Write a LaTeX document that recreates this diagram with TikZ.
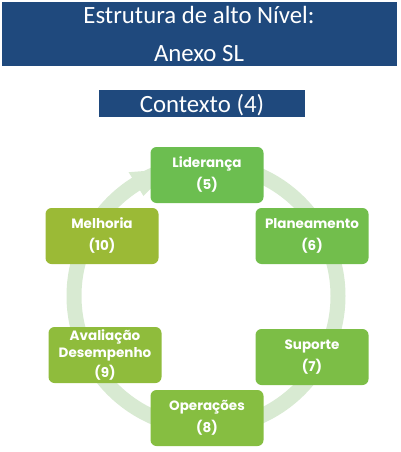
\documentclass[tikz,border=0pt]{standalone}
\usepackage{fontspec}
\setmainfont{Carlito}
\newfontfamily\popfont{Poppins}
\definecolor{bannerblue}{RGB}{31,73,125}
\definecolor{ringc}{RGB}{216,234,210}
\definecolor{cfive}{RGB}{108,190,80}
\definecolor{csix}{RGB}{114,190,76}
\definecolor{cseven}{RGB}{124,190,70}
\definecolor{ceight}{RGB}{134,190,65}
\definecolor{cnine}{RGB}{143,188,60}
\definecolor{cten}{RGB}{155,186,54}
\begin{document}
\begin{tikzpicture}[x=1pt,y=-1pt,
  gbox/.style={rounded corners=6pt, minimum width=113pt, minimum height=56pt,
    inner sep=0pt, text=white, align=center,
    font=\popfont\bfseries\fontsize{13.5}{22}\selectfont},
  titletext/.style={text=white, font=\fontsize{24.8}{28}\selectfont, anchor=base, inner sep=0pt}]
\useasboundingbox (0,0) rectangle (400,452);
% banner
\fill[bannerblue] (2,2) rectangle (397,66);
\node[titletext] (t1) at (199,24) {Estrutura de alto Nível:};
\node[titletext] (t2) at (199,62) {Anexo SL};
% context box
\fill[bannerblue] (99,90) rectangle (305,117);
\node[titletext] (ctx) at (202,112.5) {Contexto (4)};
% ring
\coordinate (c) at (206,296);
\draw[ringc, line width=15pt] (c) circle[radius=132pt];
\fill[ringc] (128.6,172.2) -- (169.6,169.1) -- (143.5,196) -- cycle;
% boxes
\node[gbox, fill=cfive]  (lid) at (207,175) {Liderança\\(5)};
\node[gbox, fill=csix]   (pla) at (312,236) {Planeamento\\(6)};
\node[gbox, fill=cseven] (sup) at (312,357) {Suporte\\(7)};
\node[gbox, fill=ceight] (ope) at (207,418) {Operações\\(8)};
\node[gbox, fill=cnine, font=\popfont\bfseries\fontsize{13.5}{17}\selectfont] (ava) at (105,355) {Avaliação\\Desempenho\\[3pt](9)};
\node[gbox, fill=cten]   (mel) at (102,236) {Melhoria\\(10)};
\end{tikzpicture}
\end{document}
